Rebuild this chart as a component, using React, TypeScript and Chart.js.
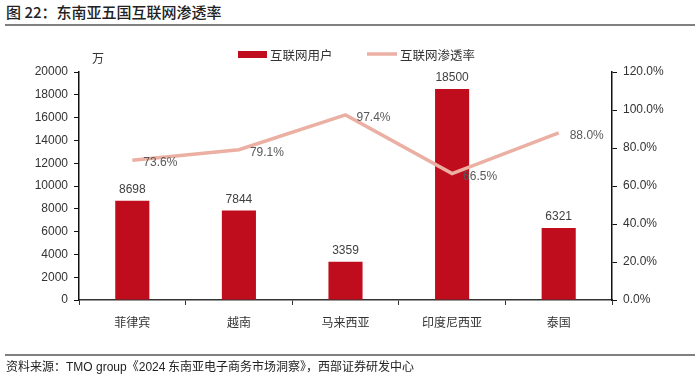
import React, { useEffect, useRef } from "react";
import { Chart, registerables } from "chart.js";

Chart.register(...registerables);

const categories = ["菲律宾", "越南", "马来西亚", "印度尼西亚", "泰国"];
const users = [8698, 7844, 3359, 18500, 6321];
const penetration = [73.6, 79.1, 97.4, 66.5, 88.0];
const leftTicks = [0, 2000, 4000, 6000, 8000, 10000, 12000, 14000, 16000, 18000, 20000];
const rightTicks = [0, 20, 40, 60, 80, 100, 120];

const BAR_COLOR = "#C00D1E";
const LINE_COLOR = "#EBB0A3";
const NUM_FONT = "'Liberation Sans', Arial, sans-serif";
const CJK_FONT = "'Noto Sans CJK SC', sans-serif";

const labelPlugin = {
  id: "labels",
  afterDatasetsDraw(chart: any) {
    const ctx = chart.ctx;
    ctx.save();
    const barMeta = chart.getDatasetMeta(0);
    ctx.font = `12px ${NUM_FONT}`;
    ctx.fillStyle = "#404040";
    ctx.textAlign = "center";
    ctx.textBaseline = "bottom";
    barMeta.data.forEach((el: any, i: number) => {
      ctx.fillText(String(users[i]), el.x, el.y - 5);
    });
    const lineMeta = chart.getDatasetMeta(1);
    ctx.fillStyle = "#595959";
    ctx.textAlign = "left";
    ctx.textBaseline = "middle";
    lineMeta.data.forEach((el: any, i: number) => {
      ctx.fillText(penetration[i].toFixed(1) + "%", el.x + 11, el.y + 3);
    });
    // unit
    ctx.fillStyle = "#333";
    ctx.font = `12px ${CJK_FONT}`;
    ctx.textAlign = "center";
    ctx.fillText("万", 98, 58);
    // legend
    ctx.fillStyle = BAR_COLOR;
    ctx.fillRect(238, 51, 29, 7);
    ctx.strokeStyle = LINE_COLOR;
    ctx.lineWidth = 3.5;
    ctx.beginPath();
    ctx.moveTo(367, 54);
    ctx.lineTo(397, 54);
    ctx.stroke();
    ctx.fillStyle = "#333";
    ctx.textAlign = "left";
    ctx.font = `12.5px ${CJK_FONT}`;
    ctx.fillText("互联网用户", 270, 55);
    ctx.fillText("互联网渗透率", 400, 55);
    ctx.restore();
  },
};

export default function App() {
  const ref = useRef<HTMLCanvasElement>(null);
  useEffect(() => {
    if (!ref.current) return;
    const chart = new Chart(ref.current, {
      type: "bar",
      data: {
        labels: categories,
        datasets: [
          {
            type: "bar",
            label: "互联网用户",
            data: users,
            backgroundColor: BAR_COLOR,
            yAxisID: "y",
            categoryPercentage: 1,
            barPercentage: 0.32,
            order: 2,
          },
          {
            type: "line",
            label: "互联网渗透率",
            data: penetration,
            borderColor: LINE_COLOR,
            borderWidth: 3.5,
            pointRadius: 0,
            tension: 0,
            yAxisID: "y1",
            order: 1,
          } as any,
        ],
      },
      options: {
        animation: false,
        responsive: false,
        layout: { padding: { top: 72, left: 0, right: 0, bottom: 0 } },
        plugins: { legend: { display: false }, tooltip: { enabled: false } },
        scales: {
          x: {
            offset: true,
            grid: {
              offset: true,
              drawOnChartArea: false,
              tickLength: 5,
              color: "#333",
            },
            border: { color: "#333", width: 1.5 },
            ticks: {
              font: { size: 12, family: CJK_FONT },
              color: "#333",
              padding: 10,
            },
            afterFit(scale: any) {
              scale.height = 81;
            },
          },
          y: {
            position: "left",
            min: 0,
            max: 20000,
            afterBuildTicks(scale: any) {
              scale.ticks = leftTicks.map((v) => ({ value: v }));
            },
            grid: { drawOnChartArea: false, tickLength: 5, color: "#111" },
            border: { color: "#111", width: 1.5 },
            ticks: {
              font: { size: 12, family: NUM_FONT },
              color: "#333",
              padding: 6,
              callback: (v: any) => String(v),
            },
            afterFit(scale: any) {
              scale.width = 79;
            },
          },
          y1: {
            position: "right",
            min: 0,
            max: 120,
            afterBuildTicks(scale: any) {
              scale.ticks = rightTicks.map((v) => ({ value: v }));
            },
            grid: { drawOnChartArea: false, tickLength: 5, color: "#111" },
            border: { color: "#111", width: 1.5 },
            ticks: {
              font: { size: 12, family: NUM_FONT },
              color: "#333",
              padding: 6,
              callback: (v: any) => Number(v).toFixed(1) + "%",
            },
            afterFit(scale: any) {
              scale.width = 88;
            },
          },
        },
      },
      plugins: [labelPlugin],
    });
    return () => chart.destroy();
  }, []);

  return (
    <div
      style={{
        position: "absolute",
        left: 0,
        top: 0,
        width: 700,
        height: 381,
        background: "#fff",
        overflow: "hidden",
      }}
    >
      <div
        style={{
          position: "absolute",
          left: 6,
          top: 1,
          fontFamily: CJK_FONT,
          fontSize: 15,
          fontWeight: 500,
          color: "#222",
          whiteSpace: "nowrap",
        }}
      >
        图 22：东南亚五国互联网渗透率
      </div>
      <div
        style={{
          position: "absolute",
          left: 5,
          top: 24,
          width: 690,
          height: 2,
          background: "#808080",
        }}
      />
      <canvas
        ref={ref}
        width={700}
        height={381}
        style={{ position: "absolute", left: 0, top: 0 }}
      />
      <div
        style={{
          position: "absolute",
          left: 5,
          top: 354,
          width: 690,
          height: 1.5,
          background: "#808080",
        }}
      />
      <div
        style={{
          position: "absolute",
          left: 6,
          top: 357,
          fontFamily: CJK_FONT,
          fontSize: 12,
          color: "#222",
          whiteSpace: "nowrap",
        }}
      >
        资料来源：<span style={{ fontFamily: NUM_FONT }}>TMO group</span>《<span style={{ fontFamily: NUM_FONT }}>2024</span> 东南亚电子商务市场洞察》，西部证券研发中心
      </div>
    </div>
  );
}
